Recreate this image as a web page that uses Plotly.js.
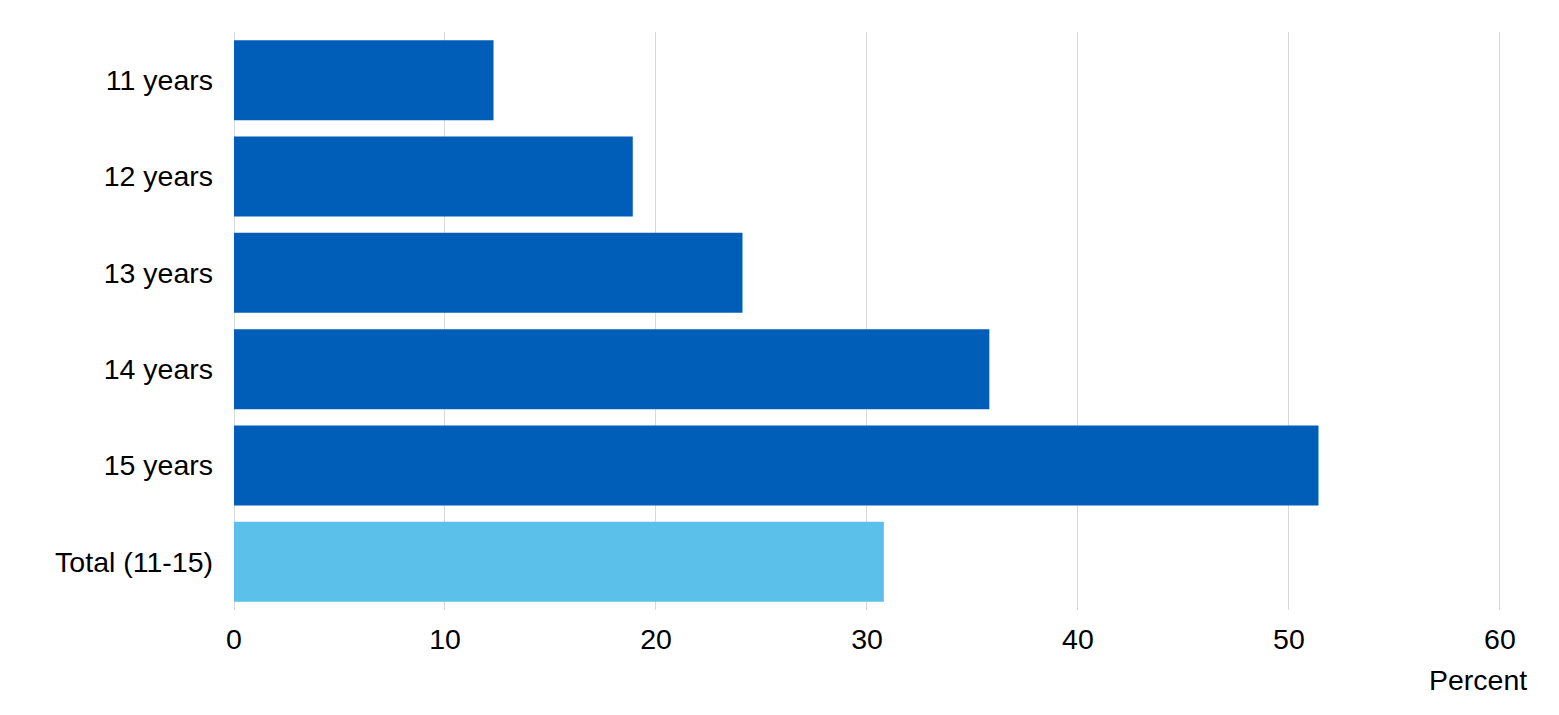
<!DOCTYPE html>
<html>
<head>
<meta charset="utf-8">
<script src="https://cdn.plot.ly/plotly-3.0.1.min.js"></script>
<style>
  html, body { margin: 0; padding: 0; background: #ffffff; }
  #chart { width: 1559px; height: 715px; }
</style>
</head>
<body>
<div id="chart"></div>
<script>
// Age groups, top to bottom as drawn
const categories = ['11 years', '12 years', '13 years', '14 years', '15 years', 'Total (11-15)'];
const percentValues = [12.3, 18.9, 24.1, 35.8, 51.4, 30.8];
const xTickValues = [0, 10, 20, 30, 40, 50, 60];

const DARK_BLUE = '#005eb8';
const LIGHT_BLUE = '#5bc0ea';

const barColors = categories.map(c => c.startsWith('Total') ? LIGHT_BLUE : DARK_BLUE);

const traces = [{
    type: 'bar',
    orientation: 'h',
    x: percentValues,
    y: categories,
    marker: { color: barColors, line: { width: 0 } },
    hoverinfo: 'x+y'
}];

const layout = {
    width: 1559,
    height: 715,
    margin: { l: 234, r: 58, t: 32, b: 105 },
    paper_bgcolor: '#ffffff',
    plot_bgcolor: '#ffffff',
    font: { family: 'Liberation Sans, Arial, sans-serif', size: 28.5, color: '#000000' },
    showlegend: false,
    bargap: 0.17,
    xaxis: {
        range: [0, 60.05],
        tickvals: xTickValues,
        ticktext: xTickValues.map(String),
        showgrid: true,
        gridcolor: '#d9d9d9',
        gridwidth: 1,
        zeroline: true,
        zerolinecolor: '#d9d9d9',
        zerolinewidth: 1,
        showline: false,
        ticks: '',
        ticklabelstandoff: 9,
        fixedrange: true
    },
    yaxis: {
        categoryorder: 'array',
        categoryarray: categories,
        autorange: 'reversed',
        showgrid: false,
        zeroline: false,
        showline: false,
        ticks: '',
        ticklabelstandoff: 20,
        fixedrange: true
    },
    annotations: [{
        text: 'Percent',
        xref: 'paper',
        yref: 'paper',
        x: 1,
        xshift: 28,
        xanchor: 'right',
        y: -0.121,
        yanchor: 'middle',
        showarrow: false,
        font: { size: 28.5, color: '#000000' }
    }]
};

Plotly.newPlot('chart', traces, layout, { displayModeBar: false, responsive: false });
</script>
</body>
</html>
